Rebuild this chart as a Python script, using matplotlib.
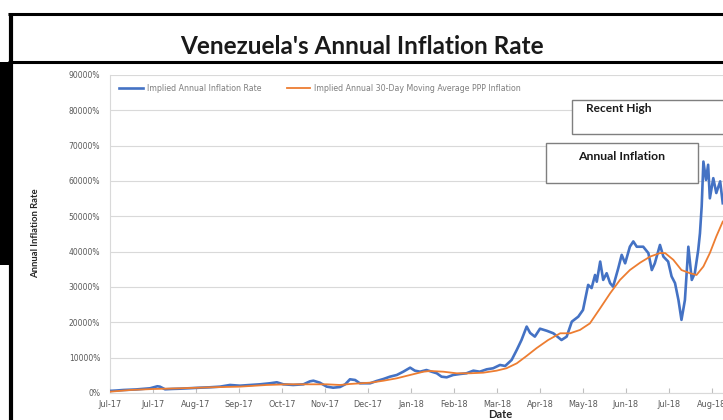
import matplotlib
matplotlib.use("Agg")
import matplotlib.pyplot as plt
from matplotlib.patches import Rectangle
from matplotlib.lines import Line2D

# ---------------- data ----------------
title = "Venezuela's Annual Inflation Rate"
month_labels = ["Jul-17", "Jul-17", "Aug-17", "Sep-17", "Oct-17", "Nov-17", "Dec-17",
                "Jan-18", "Feb-18", "Mar-18", "Apr-18", "May-18", "Jun-18", "Jul-18", "Aug-18"]
y_ticks = [0, 10000, 20000, 30000, 40000, 50000, 60000, 70000, 80000, 90000]

# x = position in months from the first tick
blue_x = [0.00, 0.15, 0.31, 0.60, 0.93, 1.10, 1.16, 1.28, 1.45, 1.63, 1.85, 2.09, 2.30, 2.56,
          2.79, 3.02, 3.26, 3.49, 3.72, 3.88, 4.03, 4.26, 4.50, 4.65, 4.73, 4.88, 5.04, 5.19,
          5.35, 5.47, 5.58, 5.70, 5.81, 6.05, 6.20, 6.36, 6.51, 6.67, 6.82, 6.98, 7.09, 7.21,
          7.36, 7.48, 7.60, 7.71, 7.83, 7.98, 8.14, 8.29, 8.45, 8.60, 8.76, 8.91, 9.07, 9.19,
          9.34, 9.46, 9.57, 9.69, 9.77, 9.88, 10.00, 10.16, 10.31, 10.50, 10.62, 10.74, 10.89,
          11.00, 11.12, 11.20, 11.28, 11.32, 11.40, 11.47, 11.55, 11.63, 11.70, 11.82, 11.90,
          11.98, 12.09, 12.17, 12.25, 12.40, 12.52, 12.60, 12.67, 12.79, 12.87, 12.98, 13.06,
          13.14, 13.22, 13.29, 13.37, 13.45, 13.53, 13.60, 13.68, 13.72, 13.76, 13.80, 13.86,
          13.91, 13.95, 14.03, 14.10, 14.19, 14.25]
blue_y = [600, 700, 850, 1000, 1330, 1900, 1800, 1050, 1150, 1220, 1350, 1500, 1600, 1800,
          2270, 2070, 2270, 2460, 2750, 3030, 2460, 2270, 2460, 3300, 3480, 2920, 1800, 1500,
          1700, 2460, 3880, 3680, 2750, 2750, 3400, 3970, 4620, 5100, 6030, 7170, 6320, 6030,
          6500, 6030, 5580, 4620, 4440, 5100, 5380, 5580, 6320, 6030, 6700, 7000, 7930, 7650,
          9350, 12200, 15000, 18800, 17000, 15950, 18200, 17600, 16900, 15000, 15950, 20200, 21600,
          23500, 30600, 29700, 33400, 31500, 37200, 32000, 33900, 31100, 30100, 35300, 39100,
          36700, 41400, 42900, 41400, 41400, 39600, 34800, 36700, 41900, 38600, 37200, 33000,
          31100, 26300, 20700, 26300, 41400, 32000, 33900, 40500, 45200, 52800, 65500, 60300,
          64600, 55100, 60800, 56600, 59900, 53700]

orange_x = [0.00, 0.47, 1.00, 1.63, 2.33, 3.02, 3.64, 4.11, 4.57, 5.04, 5.35, 5.58, 6.05, 6.36,
            6.67, 6.98, 7.29, 7.44, 7.75, 8.06, 8.37, 8.68, 8.99, 9.22, 9.46, 9.69, 9.92, 10.19,
            10.47, 10.70, 10.93, 11.16, 11.40, 11.63, 11.86, 12.09, 12.33, 12.56, 12.79, 12.91,
            13.10, 13.29, 13.49, 13.64, 13.80, 13.95, 14.10, 14.25]
orange_y = [370, 850, 1130, 1330, 1610, 1800, 2270, 2460, 2460, 2460, 2270, 2550, 2920, 3480,
            4160, 5100, 6030, 6230, 6030, 5580, 5580, 5750, 6320, 7000, 8400, 10500, 12700, 15000,
            16900, 16900, 17850, 19700, 24000, 28200, 32000, 34800, 36900, 38600, 39600, 39600,
            37700, 34800, 33900, 33400, 35800, 39600, 44300, 48500]

series_names = ["Implied Annual Inflation Rate",
                "Implied Annual 30-Day Moving Average PPP Inflation"]
box_texts = ["Recent High", "Annual Inflation"]

# ---------------- figure ----------------
W, H = 723, 420
fig = plt.figure(figsize=(W / 100, H / 100), dpi=100)
fig.patch.set_facecolor("white")

def fx(px):
    return px / W

def fy(py):
    return 1 - py / H

BLUE = "#4472C4"
ORANGE = "#ED7D31"
GRID = "#d9d9d9"
TXT = "#595959"

ax = fig.add_axes([fx(110), fy(393), fx(723) - fx(110), fy(75) - fy(393)])
ax.plot(blue_x, blue_y, color=BLUE, lw=1.9, solid_joinstyle="round", zorder=3)
ax.plot(orange_x, orange_y, color=ORANGE, lw=1.3, zorder=4)

ax.set_xlim(0, (723 - 110) / 43.0)
ax.set_ylim(0, 90000)
ax.set_yticks(y_ticks)
ax.set_yticklabels([f"{v}%" for v in y_ticks], fontsize=5.5, color=TXT)
ax.set_xticks(range(len(month_labels)))
ax.set_xticklabels(month_labels, fontsize=5.9, color=TXT)
ax.tick_params(axis="y", length=0, pad=7)
ax.tick_params(axis="x", direction="in", length=3.5, color="#bfbfbf", pad=5)
ax.grid(axis="y", color=GRID, lw=0.8)
ax.set_axisbelow(True)
for s in ["top", "right"]:
    ax.spines[s].set_visible(False)
ax.spines["left"].set_color(GRID)
ax.spines["bottom"].set_color(GRID)
ax.spines["left"].set_linewidth(0.8)
ax.spines["bottom"].set_linewidth(0.8)

# legend
handles = [Line2D([], [], color=BLUE, lw=1.9), Line2D([], [], color=ORANGE, lw=1.3)]
fig.legend(handles, series_names, loc="upper left", bbox_to_anchor=(fx(119), fy(84)),
           bbox_transform=fig.transFigure, ncol=2, frameon=False, fontsize=5.7,
           handlelength=3.0, handletextpad=0.5, columnspacing=3.2, borderpad=0,
           borderaxespad=0, labelcolor="#7f7f7f")

# axis titles
fig.text(fx(36), fy(233), "Annual Inflation Rate", rotation=90, ha="center", va="center",
         fontsize=6.8, fontweight="bold", color="#262626", family="Lato")
fig.text(fx(500), fy(415), "Date", ha="center", va="center", fontsize=8,
         fontweight="bold", color="#262626", family="Lato")

# title
fig.text(fx(362), fy(46), title, ha="center", va="center", fontsize=17.5,
         fontweight="bold", color="#1a1a1a", family="Lato")

# annotation boxes
fig.patches.append(Rectangle((fx(572), fy(134)), fx(740) - fx(572), fy(100) - fy(134),
                             transform=fig.transFigure, facecolor="white",
                             edgecolor="#7f7f7f", lw=1.0, zorder=10))
fig.text(fx(586), fy(109), box_texts[0], ha="left", va="center", fontsize=8.6,
         fontweight="bold", color="#1a1a1a", family="Lato", zorder=11)
fig.patches.append(Rectangle((fx(546), fy(183)), fx(698) - fx(546), fy(143) - fy(183),
                             transform=fig.transFigure, facecolor="white",
                             edgecolor="#7f7f7f", lw=1.0, zorder=10))
fig.text(fx(622), fy(157), box_texts[1], ha="center", va="center", fontsize=8.8,
         fontweight="bold", color="#1a1a1a", family="Lato", zorder=11)

# black frame of the screenshot
def hline(y, x0, x1, lw):
    fig.add_artist(Line2D([fx(x0), fx(x1)], [fy(y), fy(y)], transform=fig.transFigure,
                          color="black", lw=lw, solid_capstyle="butt"))

def vline(x, y0, y1, lw):
    fig.add_artist(Line2D([fx(x), fx(x)], [fy(y0), fy(y1)], transform=fig.transFigure,
                          color="black", lw=lw, solid_capstyle="butt"))

hline(14, 8, 723, 2.2)
hline(62, 8, 723, 2.2)
vline(11, 13, 420, 3.0)
fig.patches.append(Rectangle((0, fy(265)), fx(13), fy(62) - fy(265),
                             transform=fig.transFigure, facecolor="black",
                             edgecolor="none", zorder=5))

fig.savefig("out.png", dpi=100)
